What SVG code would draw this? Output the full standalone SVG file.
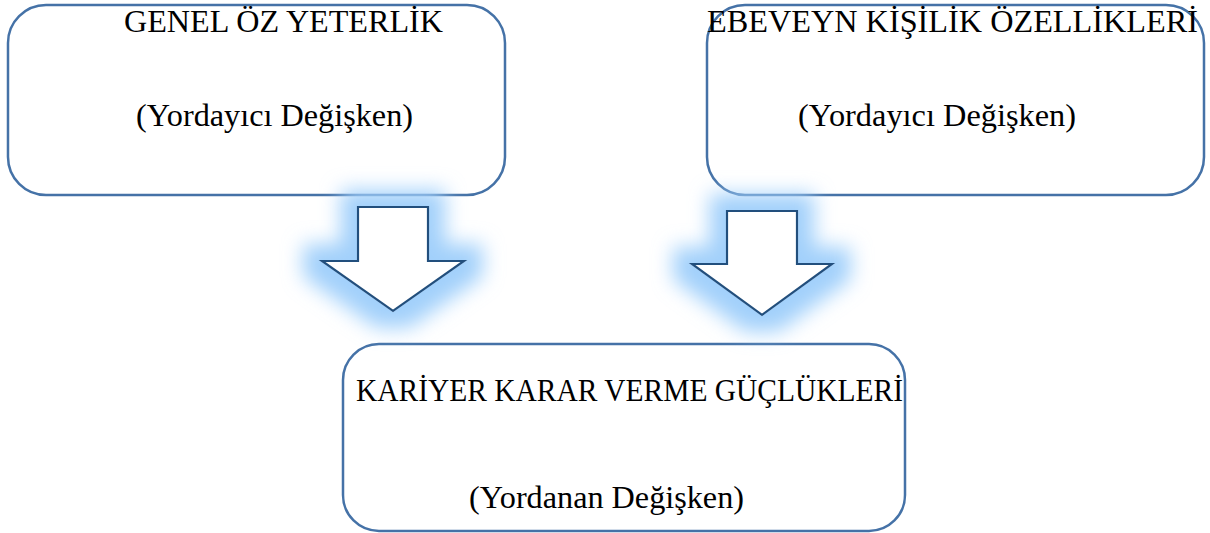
<svg xmlns="http://www.w3.org/2000/svg" width="1210" height="533" viewBox="0 0 1210 533">
<style>
.box{fill:#fff;stroke:#4572a7;stroke-width:2.5}
.arrow{fill:#fff;stroke:#24507d;stroke-width:2.2;stroke-linejoin:miter}
.t{font-family:"Liberation Serif","Times New Roman",serif;font-size:32px;fill:#000;text-anchor:middle}
</style>
<defs>
<filter id="glow" x="-70%" y="-70%" width="240%" height="240%">
<feMorphology in="SourceAlpha" operator="dilate" radius="16" result="d"/>
<feFlood flood-color="#a2d0fb" result="c"/>
<feComposite in="c" in2="d" operator="in" result="g"/>
<feGaussianBlur in="g" stdDeviation="10" result="b"/>
<feMerge><feMergeNode in="b"/><feMergeNode in="SourceGraphic"/></feMerge>
</filter>
</defs>
<g id="node-genel">
<rect class="box" x="8" y="5" width="497" height="190" rx="38"/>
<text class="t" x="283.5" y="32" textLength="319" lengthAdjust="spacingAndGlyphs">GENEL ÖZ YETERLİK</text>
<text class="t" x="274.5" y="126" textLength="277" lengthAdjust="spacingAndGlyphs">(Yordayıcı Değişken)</text>
</g>
<g id="node-ebeveyn">
<rect class="box" x="707" y="5" width="497" height="190" rx="38"/>
<text class="t" x="952.5" y="32" textLength="491" lengthAdjust="spacingAndGlyphs">EBEVEYN KİŞİLİK ÖZELLİKLERİ</text>
<text class="t" x="937" y="126" textLength="278" lengthAdjust="spacingAndGlyphs">(Yordayıcı Değişken)</text>
</g>
<g id="node-kariyer">
<rect class="box" x="343" y="344" width="562" height="187" rx="36"/>
<text class="t" x="629.5" y="401" textLength="547" lengthAdjust="spacingAndGlyphs">KARİYER KARAR VERME GÜÇLÜKLERİ</text>
<text class="t" x="606.5" y="508" textLength="275" lengthAdjust="spacingAndGlyphs">(Yordanan Değişken)</text>
</g>
<g id="connectors">
<polygon class="arrow" filter="url(#glow)" points="358,207 428,207 428,261 464,261 393,311 322,261 358,261"/>
<polygon class="arrow" filter="url(#glow)" points="727,211 797,211 797,264 832,264 762,315 692,264 727,264"/>
</g>
</svg>
